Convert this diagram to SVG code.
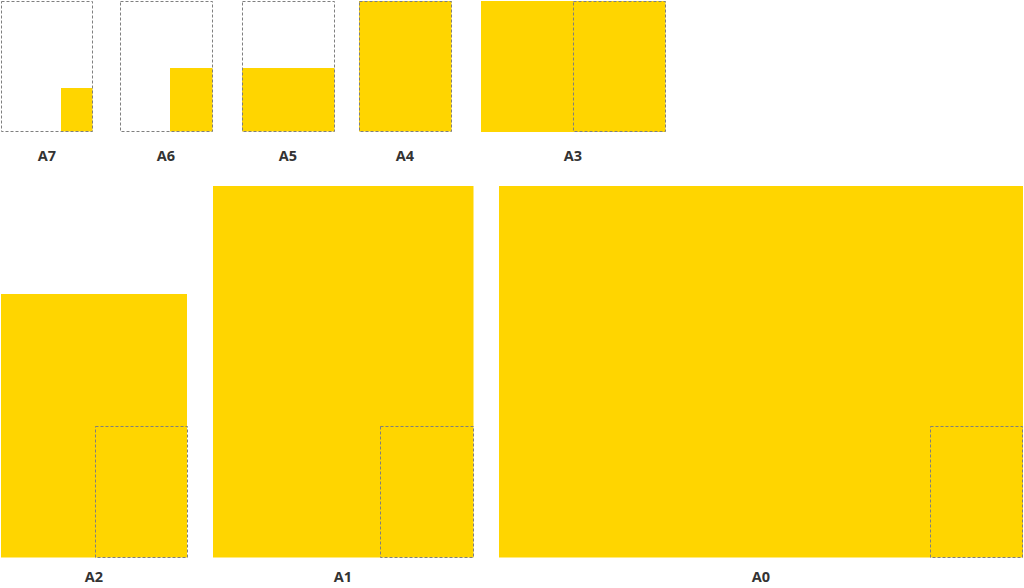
<svg xmlns="http://www.w3.org/2000/svg" width="1024" height="588" viewBox="0 0 1024 588">
<style>
.y{fill:#FFD500}
.d{fill:none;stroke:#7f7f7f;stroke-width:1;stroke-dasharray:3 2}
.l{font-family:"Open Sans","Liberation Sans",sans-serif;font-weight:bold;font-size:14.5px;fill:#333;text-anchor:middle}
</style>
<rect width="1024" height="588" fill="#fff"/>
<g id="a7">
<rect class="y" x="61" y="88" width="31.5" height="43.5"/>
<rect class="d" x="1.5" y="1.5" width="91" height="130"/>
<text class="l" x="47" y="161">A7</text>
</g>
<g id="a6">
<rect class="y" x="170" y="68" width="42.5" height="63.5"/>
<rect class="d" x="120.5" y="1.5" width="92" height="130"/>
<text class="l" x="166" y="161">A6</text>
</g>
<g id="a5">
<rect class="y" x="242" y="68" width="92.5" height="63.5"/>
<rect class="d" x="242.5" y="1.5" width="92" height="130"/>
<text class="l" x="288" y="161">A5</text>
</g>
<g id="a4">
<rect class="y" x="359" y="1" width="92.5" height="130.5"/>
<rect class="d" x="359.5" y="1.5" width="92" height="130"/>
<text class="l" x="405" y="161">A4</text>
</g>
<g id="a3">
<rect class="y" x="481" y="1" width="184.5" height="131"/>
<rect class="d" x="573.5" y="1.5" width="92" height="130"/>
<text class="l" x="573" y="161">A3</text>
</g>
<g id="a2">
<rect class="y" x="1" y="294" width="186" height="263.5"/>
<rect class="d" x="95.5" y="426.5" width="92" height="131"/>
<text class="l" x="94" y="582">A2</text>
</g>
<g id="a1">
<rect class="y" x="213" y="186" width="260.5" height="371.5"/>
<rect class="d" x="380.5" y="426.5" width="93" height="131"/>
<text class="l" x="343" y="582">A1</text>
</g>
<g id="a0">
<rect class="y" x="499" y="186" width="524" height="371.5"/>
<rect class="d" x="930.5" y="426.5" width="92" height="131"/>
<text class="l" x="761" y="582">A0</text>
</g>
</svg>
